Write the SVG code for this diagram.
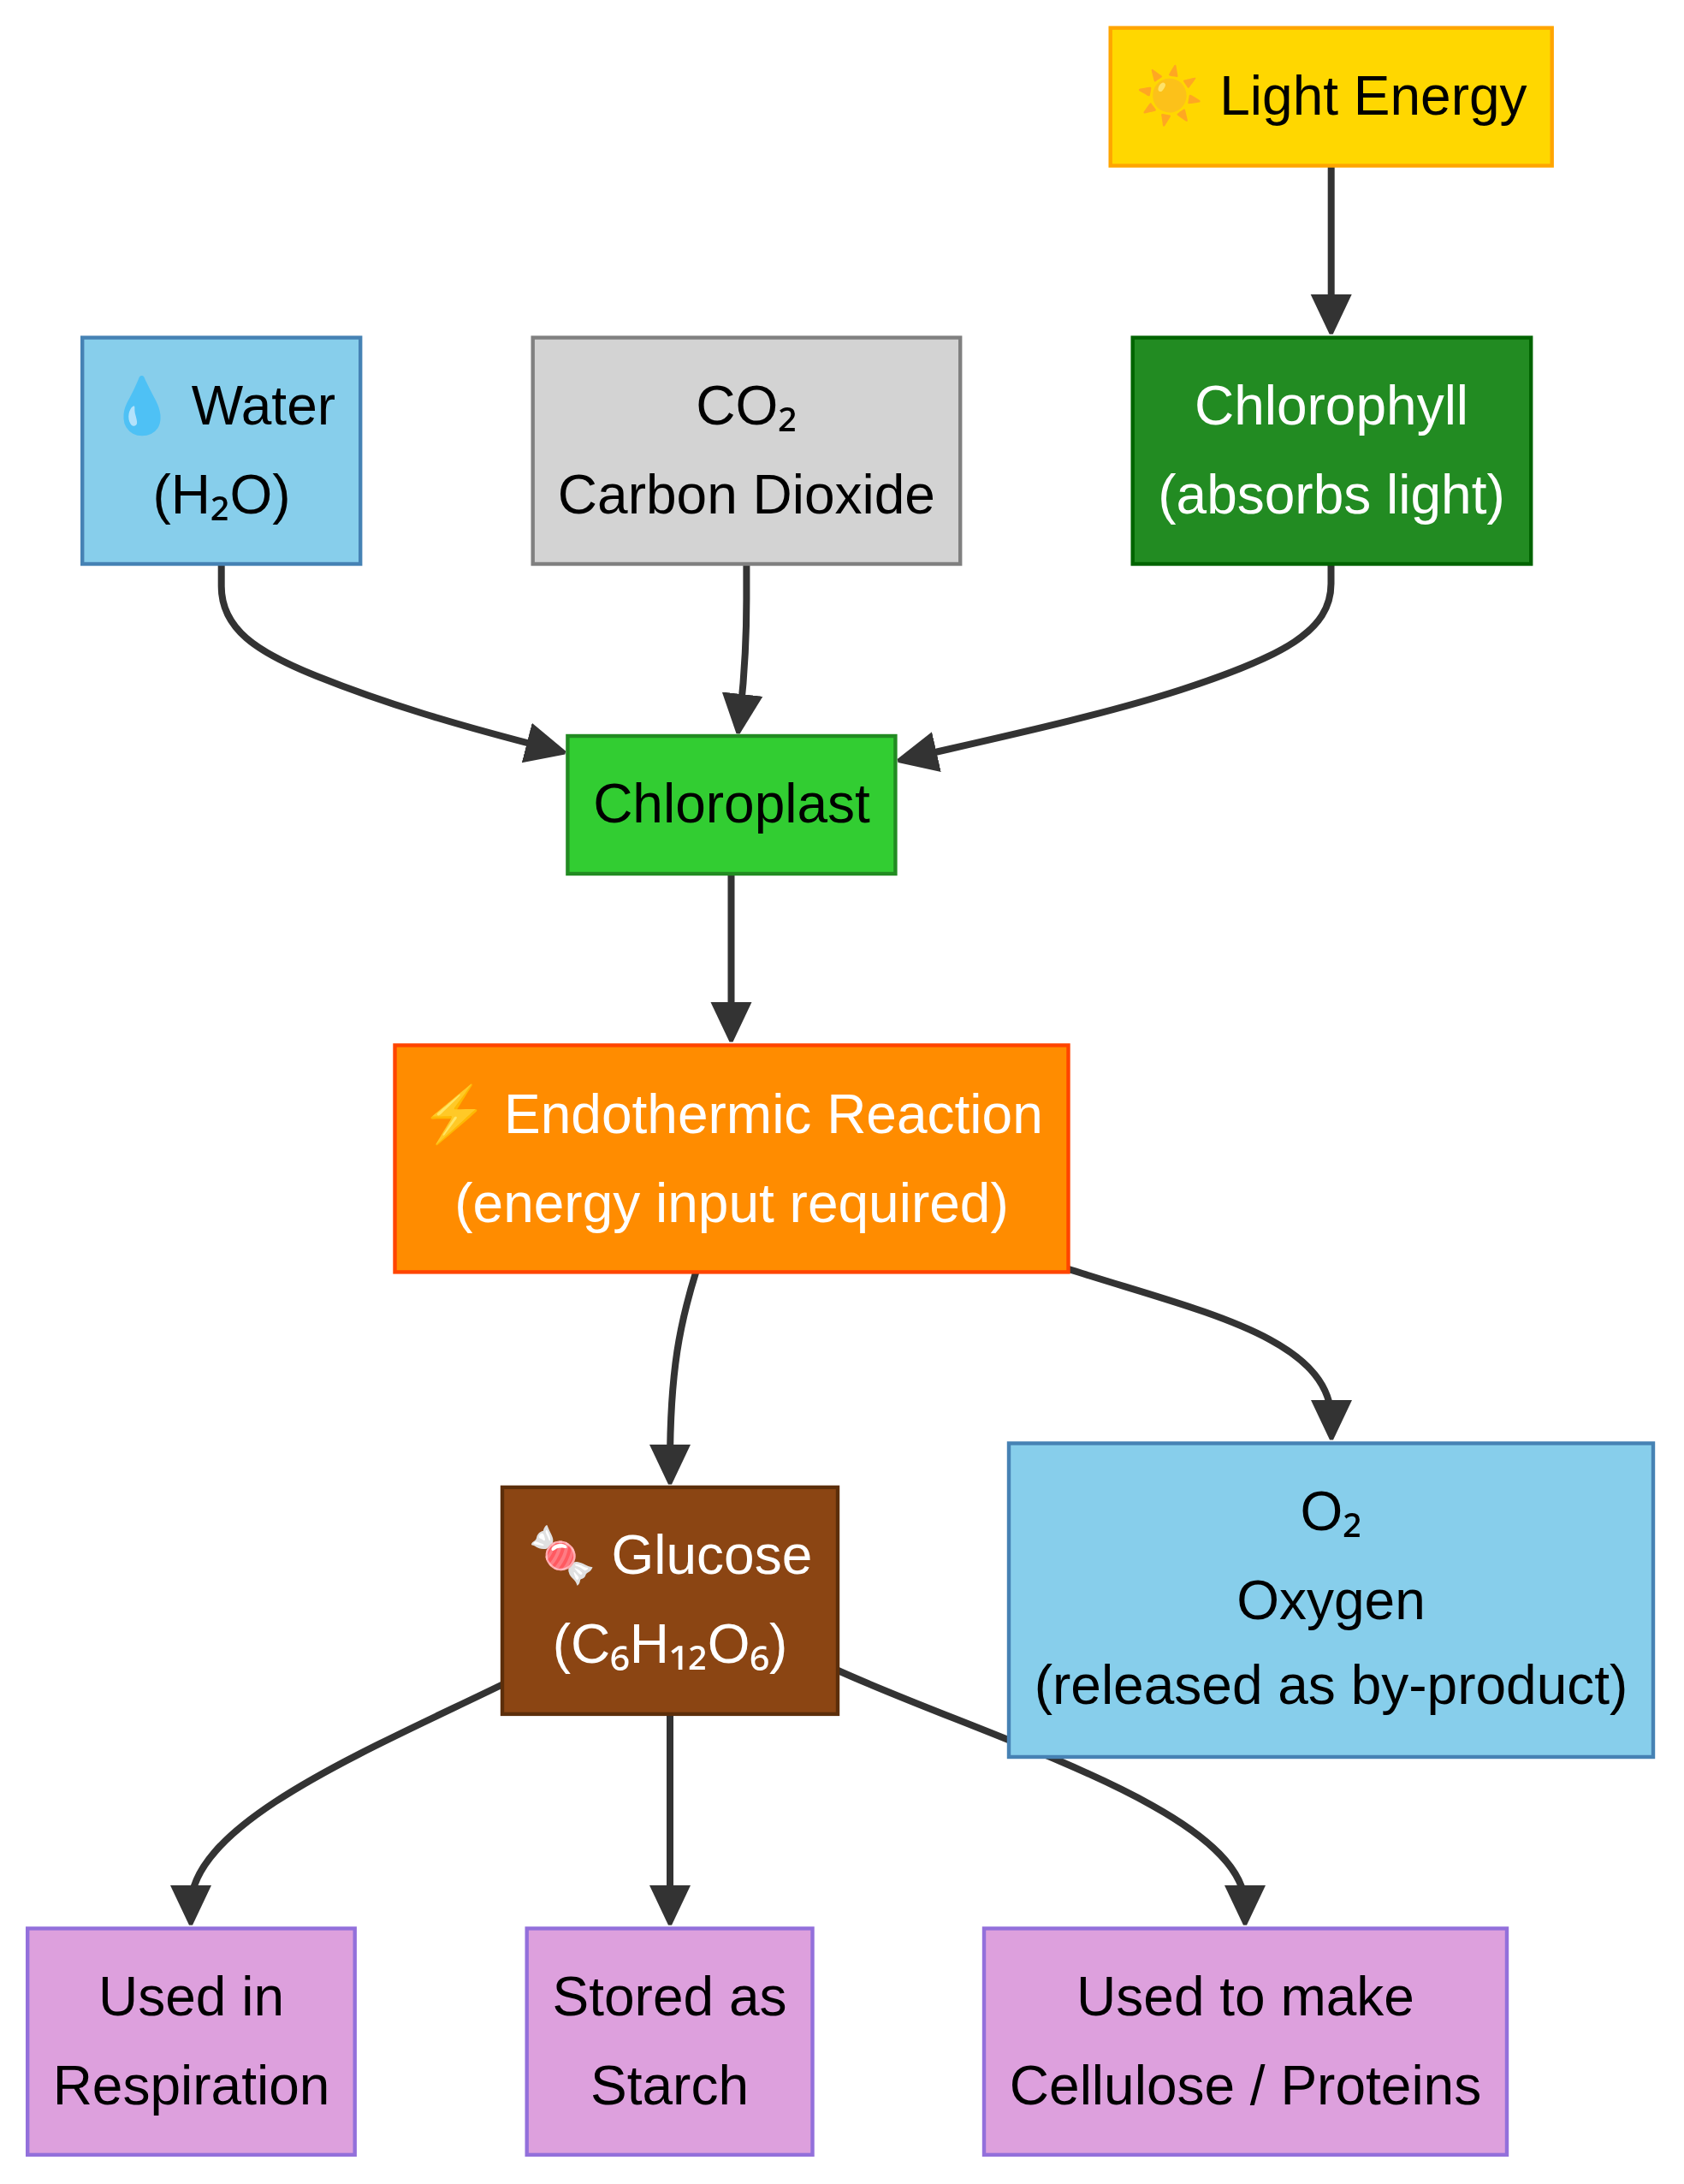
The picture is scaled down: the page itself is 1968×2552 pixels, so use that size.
<svg xmlns="http://www.w3.org/2000/svg" width="1968" height="2552" viewBox="0 0 1968 2552">
<style>
text{font-family:"Liberation Sans","Noto Sans",sans-serif;font-size:64px;text-anchor:middle;fill:#000}
text.w{fill:#fff}
tspan{font-family:"Noto Sans",sans-serif}
rect{stroke-width:4.4}
.e{fill:none;stroke:#333;stroke-width:8}
</style>
<defs><marker id="a" markerUnits="userSpaceOnUse" markerWidth="50" markerHeight="50" refX="24" refY="24" orient="auto"><path d="M0,0L0,48L46.5,26V22z" fill="#333"/></marker></defs>
<rect width="1968" height="2552" style="stroke-width:0" fill="#fff"/>
<g id="connectors">
<path class="e" marker-end="url(#a)" d="M1555.7,195V368"/>
<path class="e" marker-end="url(#a)" d="M258.7,661V685C258.7,735 300,762 370,790C450,822 530,846 639,874"/>
<path class="e" marker-end="url(#a)" d="M872.4,661V700C872.4,750 870,790 865,835"/>
<path class="e" marker-end="url(#a)" d="M1555.5,661V682C1555.5,737 1500,767 1380,806C1290,835 1180,859 1071,884"/>
<path class="e" marker-end="url(#a)" d="M854.5,1023V1195"/>
<path class="e" marker-end="url(#a)" d="M814,1484C795,1545 783,1600 783,1712"/>
<path class="e" marker-end="url(#a)" d="M1246,1482C1400,1532 1556,1562 1556,1660"/>
<path class="e" marker-end="url(#a)" d="M590,1967C430,2045 223,2130 223,2227"/>
<path class="e" marker-end="url(#a)" d="M783,2004V2227"/>
<path class="e" marker-end="url(#a)" d="M975,1950C1150,2030 1455,2115 1455,2227"/>
</g>
<g id="light"><rect x="1297.7" y="32.6" width="516" height="161" fill="#FFD700" stroke="#FFA500"/><text x="1556" y="134">☀️ Light Energy</text></g>
<g id="water"><rect x="96.2" y="394.5" width="325" height="264.5" fill="#87CEEB" stroke="#4682B4"/><text x="259" y="496">💧 Water</text><text x="259" y="600">(H<tspan>₂</tspan>O)</text></g>
<g id="co2"><rect x="622.7" y="394.5" width="499.5" height="264.5" fill="#D3D3D3" stroke="#808080"/><text x="872.4" y="496">CO<tspan>₂</tspan></text><text x="872.4" y="600">Carbon Dioxide</text></g>
<g id="chlorophyll"><rect x="1323.7" y="394.5" width="465.5" height="264.5" fill="#228B22" stroke="#006400"/><text class="w" x="1556" y="496">Chlorophyll</text><text class="w" x="1556" y="600">(absorbs light)</text></g>
<g id="chloroplast"><rect x="663.4" y="860" width="383" height="161" fill="#32CD32" stroke="#228B22"/><text x="855" y="961">Chloroplast</text></g>
<g id="endothermic"><rect x="461.5" y="1221.4" width="787" height="265" fill="#FF8C00" stroke="#FF4500"/><text class="w" x="855" y="1324">⚡ Endothermic Reaction</text><text class="w" x="855" y="1428">(energy input required)</text></g>
<g id="glucose"><rect x="587" y="1737.9" width="392" height="265" fill="#8B4513" stroke="#5C2E0A"/><text class="w" x="783" y="1839">🍬 Glucose</text><text class="w" x="783" y="1943">(C<tspan>₆</tspan>H<tspan>₁₂</tspan>O<tspan>₆</tspan>)</text></g>
<g id="oxygen"><rect x="1179" y="1686.5" width="753" height="366.5" fill="#87CEEB" stroke="#4682B4"/><text x="1555.5" y="1788">O<tspan>₂</tspan></text><text x="1555.5" y="1892">Oxygen</text><text x="1555.5" y="1991">(released as by-product)</text></g>
<g id="respiration"><rect x="32.2" y="2253.4" width="382.5" height="264.5" fill="#DDA0DD" stroke="#9370DB"/><text x="223.5" y="2355">Used in</text><text x="223.5" y="2459">Respiration</text></g>
<g id="starch"><rect x="615.7" y="2253.4" width="333.8" height="264.5" fill="#DDA0DD" stroke="#9370DB"/><text x="782.5" y="2355">Stored as</text><text x="782.5" y="2459">Starch</text></g>
<g id="cellulose"><rect x="1150" y="2253.4" width="611" height="264.5" fill="#DDA0DD" stroke="#9370DB"/><text x="1455.5" y="2355">Used to make</text><text x="1455.5" y="2459">Cellulose / Proteins</text></g>
</svg>
